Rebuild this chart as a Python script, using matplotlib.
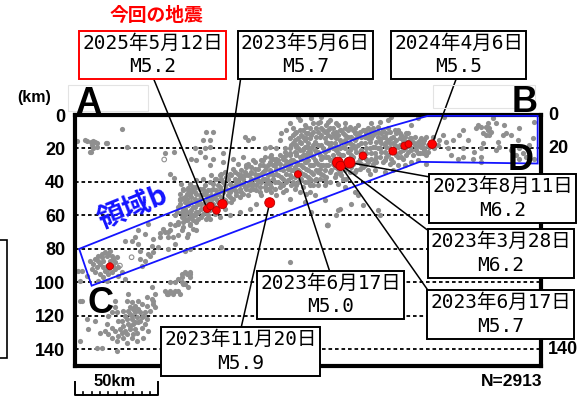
import numpy as np
import matplotlib
matplotlib.use("Agg")
import matplotlib.pyplot as plt
from matplotlib.patches import Polygon, Rectangle

# depth section: distance along A-B (km) and depth (km)
depth_ticks = [0, 20, 40, 60, 80, 100, 120, 140]
right_ticks = [0, 20, 140]
n_events = 2913

# gray background seismicity (km, depth)
shallow_west = [
    (28, 8.6), (1, 15.6), (6, 15), (9.6, 16), (11, 15.6), (12, 16), (13, 16.5), (10.4, 18), (11, 20),
    (9.6, 22.4), (18.4, 17), (31, 19), (7, 15.6), (13, 19), (9, 22), (19, 17),
    (54, 23), (59.6, 22.4), (57, 35), (59.6, 37.6), (63.6, 41), (65, 44), (68, 43.6), (69, 41),
    (70, 46), (63, 50), (65, 49.6), (67.6, 52.4), (62, 55), (64, 58), (66, 60), (70, 59), (60, 60),
    (57, 65), (60, 66), (62, 64), (65, 64), (67, 63), (69, 65), (54, 70), (51, 70.4), (42, 71),
    (38, 69), (36, 73), (30, 75), (44, 65), (57, 69), (64, 69), (71, 68), (68, 71), (62, 72),
    (63, 51), (66, 49), (69, 45), (71, 43), (73, 39), (66, 56), (68, 62), (61, 58),
]
lower_west = [
    (12, 86), (14, 84), (16, 83), (18, 82), (19, 84), (20, 83), (22, 84), (23, 86), (24, 88), (17, 87),
    (15, 89), (13, 91), (12, 94), (15, 95), (18, 93), (20, 95), (22, 94), (24, 92), (26, 91), (28, 94),
    (17, 97), (14, 99), (19, 99), (11, 89), (9, 87), (10, 92), (4, 93), (7, 96), (26, 96), (30, 98),
    (21, 87), (23, 90), (19, 90), (17, 91), (20, 92), (16, 85), (21, 81), (25, 85), (14, 87),
    (40, 90), (42, 87), (45, 84), (47, 82), (39, 81), (46, 78), (50, 79), (56, 80), (60, 77),
    (64, 95), (66, 94), (62, 98), (64, 100), (66, 101), (68, 103), (60, 100), (57, 100), (54, 105),
    (56, 107), (62, 105), (63, 107), (32, 107), (31, 111), (24, 111), (24, 115), (25, 118), (29, 117),
    (33, 115), (36, 114), (40, 113), (43, 114), (46, 110), (47, 113), (45, 117), (42, 118), (39, 118),
    (36, 118), (33, 119), (30, 120), (31, 122), (34, 122), (37, 121), (40, 121), (38, 124), (35, 125),
    (32, 125), (29, 126), (33, 128), (30, 129), (27, 128), (24, 129), (26, 132), (29, 133), (25, 135),
    (22, 133), (20, 131), (18, 129), (15, 130), (22, 127), (19, 125), (26, 123), (28, 123), (36, 128),
    (40, 127), (42, 125), (44, 129), (41, 133), (37, 135), (34, 133), (31, 136), (25, 141), (16, 139),
    (13, 139), (3, 135), (8, 128), (12, 123), (7, 122), (3, 111), (22, 118), (20, 120), (48, 115),
    (35, 116), (38, 116), (34, 120), (36, 124), (39, 123), (33, 126), (37, 130), (31, 131), (28, 130),
    (35, 131), (32, 117), (41, 120), (38, 111), (34, 112), (43, 122),
    (66, 81), (69, 80), (4, 111), (3, 99), (2, 93), (55, 107), (59, 107), (64, 97), (67, 95), (69, 94),
    (69, 97), (65, 101), (60, 105), (57, 105), (43, 109), (47, 111), (48, 107), (46, 103), (39, 86),
    (44, 83), (38, 77), (34, 75), (47, 74), (51, 73), (56, 73), (59, 73), (56, 70), (53, 68), (62, 65),
    (65, 67), (67, 73), (88, 79), (129, 88), (69, 95), (151.6, 66),
]
band_west = [
    (69, 48), (70, 52), (70, 57), (71, 45), (72, 50), (72, 55), (72, 60), (73, 47), (74, 53), (74, 58),
    (75, 44), (75, 50), (76, 56), (76, 61), (77, 47), (78, 52), (78, 42), (79, 58), (80, 45), (80, 50),
    (81, 40), (81, 62), (82, 48), (83, 53), (83, 44), (84, 38), (84, 59), (85, 50), (86, 42), (86, 47),
    (87, 36), (87, 61), (88, 45), (89, 40), (89, 50), (90, 34), (90, 56), (91, 44), (92, 38), (92, 48),
    (93, 35), (94, 42), (94, 52), (95, 32), (96, 45), (96, 38), (97, 48), (98, 35), (99, 41), (100, 33),
    (100, 46), (101, 38), (102, 43), (103, 31), (104, 36), (104, 48), (105, 40), (106, 34), (107, 44),
    (108, 32), (108, 38), (109, 42), (110, 36), (111, 30), (111, 46), (112, 40), (113, 34), (114, 38),
    (114, 43), (115, 31), (116, 36), (117, 28), (117, 41), (118, 34), (119, 38), (120, 30), (120, 44),
    (121, 35), (122, 27), (122, 40), (123, 32), (124, 37), (125, 25), (125, 42), (126, 30), (127, 35),
    (128, 28), (128, 39), (129, 23), (130, 33), (130, 37), (131, 27), (132, 31), (132, 44), (133, 24),
    (134, 29), (134, 40), (135, 21), (135, 34), (136, 26), (137, 31), (137, 43), (138, 19), (138, 36),
    (139, 24), (139, 28), (140, 33), (140, 17), (141, 22), (141, 38), (141, 46),
    (66, 52), (67, 47), (73, 43), (77, 38), (79, 48), (82, 36), (85, 45), (88, 38), (91, 52), (93, 46),
    (97, 40), (99, 37), (102, 36), (106, 42), (110, 40), (113, 30), (116, 44), (119, 26), (123, 43),
    (126, 22), (129, 30), (131, 40), (133, 18), (136, 38), (139, 14), (141, 30), (127, 45), (118, 46),
    (71, 60), (73, 64), (80, 60), (93, 60), (99, 58), (105, 56), (109, 53), (112, 48), (121, 48),
    (125, 46), (129, 50), (135, 46), (138, 52), (69, 66), (73, 69),
    (79, 10), (83, 10.4), (77, 15), (81, 15), (102, 13), (104, 15), (107, 14), (129, 5), (134, 1),
    (135, 3), (127, 9), (124, 11), (123, 15), (129, 14), (131, 12), (133, 10), (137, 9), (139, 7),
    (135, 16), (138, 15), (140, 11), (117, 19), (114, 20), (121, 20), (126, 20), (72, 20), (75, 22),
    (78, 20), (81, 19), (70, 26), (73, 27), (78, 25), (83, 26), (81, 30), (89, 23), (89, 28), (95, 26),
    (101, 25), (98, 29), (107, 27), (103, 30), (113, 27), (117, 25), (121, 28), (125, 26), (129, 24),
    (133, 23), (137, 24), (140, 22), (139, 19), (133, 19), (130, 18),
]
band_core = [
    (63, 47), (63, 53), (64, 61), (65, 45), (65, 57), (66, 63), (67, 50), (67, 58), (68, 45), (68, 54),
    (69, 61), (70, 49), (71, 55), (71, 63), (72, 46), (73, 52), (73, 58), (74, 62), (75, 48), (76, 53),
    (77, 59), (77, 44), (78, 56), (79, 46), (79, 62), (80, 53), (81, 57), (82, 45), (82, 51),
    (83, 41), (83, 49), (84, 55), (85, 38), (85, 47), (86, 52), (87, 43), (88, 49), (88, 35), (89, 46),
    (90, 42), (90, 51), (91, 37), (92, 45), (93, 41), (93, 49), (94, 36), (95, 44), (95, 50), (96, 34),
    (97, 42), (97, 46), (98, 39), (99, 49), (99, 44), (100, 36), (101, 41), (101, 47), (102, 34), (103, 44),
    (104, 29), (104, 42), (105, 35), (105, 45), (106, 31), (106, 38), (107, 41), (108, 28), (108, 35),
    (109, 45), (110, 32), (110, 39), (111, 43), (112, 27), (112, 35), (113, 38), (114, 25), (114, 33),
    (115, 41), (115, 45), (116, 30), (116, 39), (117, 33), (118, 24), (118, 43), (119, 30), (119, 36),
    (120, 40), (121, 26), (121, 32), (122, 36), (123, 24), (123, 29), (124, 41), (125, 33), (125, 38),
    (126, 27), (127, 24), (127, 40), (128, 32), (129, 36), (129, 20), (130, 27), (130, 42),
    (131, 17), (131, 33), (132, 11), (132, 22), (132, 37), (133, 28), (133, 42), (134, 14), (134, 20),
    (134, 33), (135, 9), (135, 25), (135, 38), (136, 17), (136, 30), (137, 13), (137, 21), (137, 35),
    (138, 6), (138, 24), (138, 40), (139, 11), (139, 32), (140, 19), (140, 27), (140, 37), (141, 8),
    (141, 14), (141, 42), (142, 24), (142, 34), (143, 10), (143, 18), (143, 30), (144, 27), (144, 39),
    (145, 13), (145, 22), (145, 33), (146, 5), (146, 18), (146, 29), (147, 13), (147, 24), (147, 38),
    (148, 8), (148, 30), (148, 35), (149, 20), (149, 25), (150, 10), (150, 33), (150, 38), (151, 16),
    (151, 25), (152, 12), (152, 21), (152, 30), (153, 8), (153, 27), (153, 40),
    (154, 17), (154, 33), (155, 11), (155, 20), (156, 26), (156, 31), (157, 14), (157, 35), (158, 12),
    (158, 23), (159, 20), (159, 34), (160, 9), (160, 16), (160, 29), (161, 24), (161, 38), (162, 12),
    (162, 20), (163, 17), (163, 31), (164, 9), (164, 26), (165, 21), (165, 34), (166, 13), (166, 24),
    (167, 18), (167, 29), (168, 8), (168, 15), (169, 22), (169, 33), (170, 12), (170, 18), (171, 26),
    (171, 32), (172, 13), (172, 21), (173, 9), (173, 25), (174, 17), (174, 30), (175, 11), (175, 23),
    (176, 14), (176, 28), (177, 20), (177, 9),
    (178, 14), (178, 26), (179, 8), (179, 19), (180, 11), (180, 23), (181, 16), (181, 28), (182, 7),
    (182, 13), (183, 20), (183, 25), (184, 17), (185, 9), (185, 13), (186, 22), (186, 27), (187, 11),
    (187, 19), (188, 15), (188, 24), (189, 10), (189, 17), (190, 22), (191, 13), (191, 28), (192, 18),
    (193, 15), (193, 24), (194, 9), (195, 18), (195, 22), (196, 12), (197, 15), (197, 26), (198, 20),
    (199, 11), (199, 24), (200, 17), (201, 14), (202, 21), (203, 16), (204, 13), (205, 19), (206, 23),
    (207, 18), (208, 14), (209, 17), (210, 20), (212, 18),
]
band_east = [
    (142, 12), (142, 20), (142, 30), (143, 25), (143, 35), (144, 16), (145, 28), (145, 38), (146, 10),
    (146, 22), (147, 32), (148, 18), (148, 26), (149, 36), (150, 14), (150, 22), (151, 30), (152, 9),
    (152, 25), (153, 19), (153, 34), (154, 13), (155, 24), (155, 29), (156, 17), (156, 37), (157, 10),
    (157, 21), (158, 32), (159, 15), (160, 24), (161, 11), (161, 19), (162, 33), (163, 27), (164, 13),
    (164, 22), (165, 17), (166, 31), (167, 9), (167, 25), (168, 20), (169, 14), (170, 28), (171, 22),
    (171, 10), (172, 17), (173, 31), (174, 13), (175, 20), (175, 26), (176, 8), (177, 16), (178, 23),
    (179, 12), (179, 29), (180, 19), (181, 25), (182, 10), (183, 15), (184, 22), (185, 28), (186, 13),
    (186, 18), (187, 25), (188, 8), (189, 20), (190, 14), (190, 26), (191, 17), (192, 23), (193, 11),
    (194, 19), (195, 14), (196, 25), (197, 21), (198, 13), (199, 16), (200, 22), (201, 19), (202, 14),
    (203, 24), (204, 18), (205, 21), (206, 16), (207, 23),
    (143, 5), (145, 8), (147, 4), (149, 9), (151, 6), (153, 3), (155, 8), (157, 5), (159, 9), (162, 5),
    (165, 7), (170, 6), (174, 9), (178, 5), (183, 4), (188, 3),
    (131, 8), (132, 15), (133, 35), (136, 12), (138, 28), (140, 40), (143, 42), (144, 21), (146, 34),
    (148, 12), (149, 30), (151, 40), (152, 17), (154, 27), (156, 12), (158, 19), (160, 36), (162, 15),
    (163, 38), (166, 20), (168, 34), (169, 11), (172, 29), (174, 23), (176, 33), (177, 12), (180, 27),
    (182, 20), (184, 11), (187, 16), (189, 29), (192, 9), (194, 25), (197, 17), (200, 11),
    (141, 39), (146, 42), (151, 37), (158, 41), (162, 43), (168, 46), (170, 48), (173, 54), (166, 53),
    (158, 57), (150, 51), (144, 48), (139, 47), (157, 60), (159, 56), (182, 57), (183, 60), (177, 35),
    (180, 33), (186, 34), (191, 33), (194, 30), (198, 30), (202, 28), (206, 27), (150, 42), (142, 58),
    (142, 2), (148, 1), (152, 4), (158, 6), (162, 8), (168, 11), (190, 1), (206, 2), (202, 6), (195, 11),
    (207, 15),
]
shallow_east = [
    (208, 19), (210, 21), (212, 22), (211, 24), (209, 23), (213, 19), (216, 20), (218, 18), (219, 15),
    (215, 13), (211, 13), (210, 15), (221, 12), (223, 16), (227, 15), (226, 24), (224, 20), (233, 20),
    (233, 25), (240, 22), (244, 20), (245, 17), (239, 26), (244, 25), (244, 28), (253, 21), (255, 19),
    (254, 16), (257, 12), (259, 11), (262, 12), (266, 15), (267, 20), (269, 23), (265, 24), (267, 26),
    (271, 25), (273, 18), (275, 14), (276, 26), (241, 8), (242, 6), (244, 7), (247, 7), (248, 9),
    (249, 8), (250, 10), (248, 5), (249, 12), (253, 5), (247, 12), (245, 11), (258, 6), (231, 12),
    (233, 9), (236, 15), (230, 26), (211, 29), (222, 1), (251, 2), (276, 4), (267, 8), (262, 21),
]
hollow = [(53.6, 26.6), (34, 85), (152, 66), (27, 90)]

# red events (km, depth, magnitude)
red_km = [79.4, 81.4, 85.0, 88.6, 117.0, 134.0, 158.0, 159.6, 165.0, 173.0, 191.0, 198.0, 200.4, 214.6, 21.0]
red_depth = [56.0, 54.4, 57.0, 53.2, 52.4, 35.4, 28.4, 30.4, 28.4, 24.4, 21.6, 18.4, 17.4, 17.4, 90.4]
red_mag = [5.2, 5.1, 5.2, 5.7, 5.9, 5.0, 6.2, 5.7, 6.2, 5.2, 5.3, 5.1, 5.0, 5.5, 5.0]

# labels: text, event index
labels = ["2025年5月12日\nM5.2", "2023年5月6日\nM5.7", "2024年4月6日\nM5.5",
          "2023年11月20日\nM5.9", "2023年6月17日\nM5.0", "2023年8月11日\nM6.2",
          "2023年3月28日\nM6.2", "2023年6月17日\nM5.7"]
label_event = [0, 3, 13, 4, 5, 8, 6, 7]

# region b outline (km, depth)
region_b = [(2.5, 80), (182, 9), (212, 0.5), (278, 0.5), (278, 29), (207, 28), (10, 102)]

W, H = 582, 398
fig = plt.figure(figsize=(W / 100, H / 100), dpi=100)
ax = fig.add_axes([75 / W, 32 / H, 466 / W, 251 / H])
ax.set_xlim(0, 280)
ax.set_ylim(150, 0)


def fpx(x, y):
    # image pixel (top-left origin) -> figure fraction
    return x / W, 1 - y / H


for d in depth_ticks[1:]:
    ax.axhline(d, color="black", lw=1.3, ls=(0, (2, 1.6)), zorder=1)

gray = np.array(shallow_west + lower_west + band_west + band_core + band_east + shallow_east)
ax.scatter(gray[:, 0], gray[:, 1], s=14, color="#8f8f8f", linewidths=0, zorder=2)
hol = np.array(hollow)
ax.scatter(hol[:, 0], hol[:, 1], s=11, facecolors="none", edgecolors="#8f8f8f", linewidths=0.8, zorder=2)

ax.add_patch(Polygon(region_b, closed=True, fill=False, edgecolor="#1414ff", lw=1.3, zorder=3))

box_font = ["DejaVu Sans Mono", "Noto Sans CJK JP"]
box_pos = [(152.5, 55), (305.5, 55), (458.5, 55), (240.5, 351.5), (330.5, 295),
           (502.5, 198.5), (501, 253.5), (500.5, 314.5)]
rel = [(0.5, 0), (0, 0), (0.49, 0), (0.5, 1), (0.5, 1), (0, 1), (0, 1), (0, 1)]
for i, txt in enumerate(labels):
    k = label_event[i]
    edge = "red" if i == 0 else "black"
    ax.annotate(txt, xy=(red_km[k], red_depth[k]), xycoords="data",
                xytext=fpx(*box_pos[i]), textcoords="figure fraction",
                ha="center", va="center", multialignment="center",
                fontsize=14, family=box_font, linespacing=1.28,
                bbox=dict(boxstyle="square,pad=0.15", fc="white", ec=edge, lw=1.4),
                arrowprops=dict(arrowstyle="-", color="black", lw=1.1, relpos=rel[i],
                                shrinkA=0, shrinkB=0),
                zorder=4)

diam = 7 + (np.array(red_mag) - 5.0) * 3.3
ax.scatter(red_km, red_depth, s=(diam * 0.72) ** 2, color="#ff0000", edgecolors="#b00000",
           linewidths=0.6, zorder=5)

for s in ax.spines.values():
    s.set_linewidth(3)
ax.set_xticks([])
ax.set_yticks(depth_ticks)
ax.set_yticklabels([str(d) for d in depth_ticks], fontsize=13, fontweight="bold", family="Liberation Sans")
ax.tick_params(axis="y", length=0, pad=7)
for d in right_ticks:
    ax.text(1.015, d, str(d), transform=ax.get_yaxis_transform(), ha="left", va="center",
            fontsize=13, fontweight="bold", family="Liberation Sans")

ax.text(35, 55.6, "領域b", rotation=22, rotation_mode="anchor", ha="center", va="center",
        fontsize=20, fontweight="bold", color="#1414ff", family=["Noto Sans CJK JP"], zorder=6)

# scale bar 50 km
ax.plot([0, 0, 50, 50], [159.6, 167.4, 167.4, 159.6], color="black", lw=1.4, clip_on=False)
for x in range(5, 50, 5):
    ax.plot([x, x], [165.4, 167.4], color="black", lw=1.2, clip_on=False)

letter = dict(fontsize=26, fontweight="bold", family="Liberation Sans", ha="center", va="baseline")
fig.text(*fpx(88.5, 113), "A", **letter)
fig.text(*fpx(524.5, 112), "B", **letter)
fig.text(*fpx(100.5, 313), "C", **letter)
fig.text(*fpx(521, 170), "D", **letter)

fig.text(*fpx(34, 102), "(km)", fontsize=11.5, fontweight="bold", family="Liberation Sans",
         ha="center", va="baseline")
fig.text(*fpx(156, 21), "今回の地震", fontsize=13.5, fontweight="bold", color="red",
         family="Noto Sans CJK JP", ha="center", va="baseline")
fig.text(*fpx(115, 386), "50km", fontsize=12, fontweight="bold", family="Liberation Sans",
         ha="center", va="baseline")
fig.text(*fpx(542, 386), "N=%d" % n_events, fontsize=12.5, fontweight="bold", family="Liberation Sans",
         ha="right", va="baseline")

# faint frames and the cut-off neighbour panel
for (x0, y0, x1, y1), c, lw in [((68, 85, 148, 111), "#e3e3e3", 0.8), ((433, 85, 535, 108), "#e3e3e3", 0.8),
                               ((-5, 240, 7, 358), "black", 1.2)]:
    fig.patches.append(Rectangle(fpx(x0, y1), (x1 - x0) / W, (y1 - y0) / H, transform=fig.transFigure,
                                 fill=False, edgecolor=c, lw=lw, zorder=0))

fig.savefig("out.png", dpi=100)
